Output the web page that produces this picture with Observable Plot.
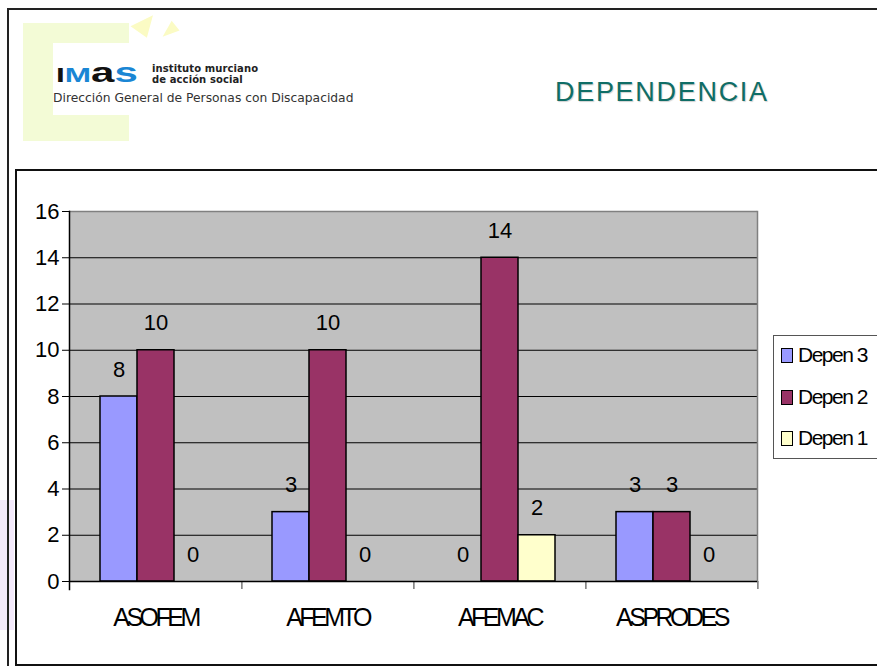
<!DOCTYPE html>
<html>
<head>
<meta charset="utf-8">
<script src="https://cdn.jsdelivr.net/npm/d3@7"></script>
<script src="https://cdn.jsdelivr.net/npm/@observablehq/plot@0.6"></script>
<style>
  html, body { margin: 0; padding: 0; background: #fff; }
  #page { position: relative; width: 877px; height: 666px; overflow: hidden; background: #fff;
          font-family: "Liberation Sans", Arial, sans-serif; }
  .deco { position: absolute; }
  #outer { position: absolute; left: 7px; top: 8px; width: 900px; height: 700px;
           border-left: 2px solid #222; border-top: 2px solid #222; }
  #inner { position: absolute; left: 15px; top: 169px; width: 900px; height: 493px;
           border-left: 2px solid #111; border-top: 2px solid #111; border-bottom: 2px solid #111; background: #fff; }
  #title { position: absolute; left: 555px; top: 77px; font-size: 27px; color: #0f6d66;
           letter-spacing: 1.7px; text-shadow: 1px 1px 1px rgba(0,0,0,0.18); }
  #logoMark { position: absolute; left: 56px; top: 58px; font-family: "Liberation Sans", Arial, sans-serif;
              white-space: nowrap; transform: scaleX(1.5); transform-origin: 0 0; line-height: 30px; font-weight: bold; }
  .logoSmall { position: absolute; left: 152px; font-size: 10px; line-height: 10px; font-family: "DejaVu Sans", sans-serif; color:#222; letter-spacing: 0.1px; white-space: nowrap; font-weight: bold; }
  #logoSub { position: absolute; left: 53px; top: 91px; font-size: 12.3px; font-family: "DejaVu Sans", sans-serif; color:#333; white-space: nowrap; letter-spacing: 0px; }
  #chart { position: absolute; left: 17px; top: 171px; }
  #legend { position: absolute; left: 773px; top: 335px; width: 120px; height: 122px;
            border: 1px solid #555; background: #fff; }
  .li { position: absolute; left: 7px; font-size: 21px; letter-spacing: -1.5px; color: #000; white-space: nowrap; }
  .sw { display: inline-block; width: 10px; height: 13px; border: 1px solid #000; margin-right: 5px; vertical-align: -1px; }
  svg g[aria-label="fx-axis tick label"] text { letter-spacing: -3.5px; }
</style>
</head>
<body>
<div id="page">
  <div class="deco" style="left:23px;top:23px;width:106px;height:118px;background:#f3fbd6;"></div>
  <div class="deco" style="left:53px;top:43px;width:76px;height:72px;background:#fff;"></div>
  <div class="deco" style="left:135px;top:12px;width:0;height:0;border-left:12px solid transparent;border-right:8px solid transparent;border-bottom:22px solid #fbfbc4;transform:rotate(35deg);"></div>
  <div class="deco" style="left:160px;top:22px;width:0;height:0;border-left:14px solid transparent;border-right:4px solid transparent;border-bottom:12px solid #fbfbc4;transform:rotate(-20deg);"></div>
  <div class="deco" style="left:0px;top:500px;width:14px;height:130px;background:#f3e9fb;"></div>
  <div id="outer"></div>
  <div id="inner"></div>
  <div id="logoMark"><span style="color:#111;font-size:21px">I</span><span style="color:#1a86d4;font-size:21px">M</span><span style="color:#111;font-size:28px">a</span><span style="color:#1a86d4;font-size:28px">s</span></div>
  <div class="logoSmall" style="top:64px">instituto murciano</div>
  <div class="logoSmall" style="top:75px">de acción social</div>
  <div id="logoSub">Dirección General de Personas con Discapacidad</div>
  <div id="title">DEPENDENCIA</div>
  <div id="chart"></div>
  <div id="legend"></div>
</div>
<script>
const categories = ["ASOFEM", "AFEMTO", "AFEMAC", "ASPRODES"];
const seriesNames = ["Depen 3", "Depen 2", "Depen 1"];
const depen3 = [8, 3, 0, 3];
const depen2 = [10, 10, 14, 3];
const depen1 = [0, 0, 2, 0];
const seriesColors = ["#9999ff", "#993366", "#ffffcc"];
const yTicks = [0, 2, 4, 6, 8, 10, 12, 14, 16];

const seriesValues = [depen3, depen2, depen1];
const rows = [];
categories.forEach((c, i) => {
  seriesNames.forEach((s, j) => {
    rows.push({category: c, series: s, value: seriesValues[j][i]});
  });
});

const W = 754, ML = 50, MR = 13;
const facetStep = (W - ML - MR) / categories.length;
const chart = Plot.plot({
  width: W,
  height: 491,
  marginLeft: ML,
  marginRight: MR,
  marginTop: 40,
  marginBottom: 81,
  style: {fontFamily: "'Liberation Sans', Arial, sans-serif", fontSize: "22px", background: "transparent", color: "#000", overflow: "visible"},
  fx: {domain: categories, padding: 0, label: null, axis: null},
  x: {domain: seriesNames, paddingInner: 0, paddingOuter: 0.78, axis: null},
  y: {domain: [0, 16], label: null},
  color: {domain: seriesNames, range: seriesColors},
  marks: [
    Plot.frame({facet: "super", fill: "#c0c0c0"}),
    Plot.ruleY(yTicks.filter(t => t > 0 && t < 16), {stroke: "#000", strokeWidth: 1}),
    Plot.ruleY([16], {stroke: "#808080", strokeWidth: 1.5}),
    Plot.frame({facet: "super", anchor: "right", stroke: "#808080", strokeWidth: 1.5}),
    Plot.frame({facet: "super", anchor: "left", stroke: "#000", strokeWidth: 1.5, insetBottom: -8}),
    Plot.axisFx({anchor: "bottom", tickSize: 8, stroke: "#777", strokeWidth: 1.5, tickFormat: () => "", dx: facetStep / 2, label: null}),
    Plot.barY(rows, {fx: "category", x: "series", y: "value", fill: "series", stroke: "#000", strokeWidth: 1.5}),
    Plot.ruleY([0], {stroke: "#000", strokeWidth: 1.5}),
    Plot.axisY({ticks: yTicks, tickSize: 7, tickPadding: 3, fontSize: 22, label: null, tickFormat: d => String(d)}),
    Plot.axisFx({anchor: "bottom", tickSize: 0, tickPadding: 27, fontSize: 25, label: null}),
    Plot.text(rows, {fx: "category", x: "series", y: "value", text: d => String(d.value), dy: -27, fontSize: 22})
  ]
});
document.getElementById("chart").appendChild(chart);

const legend = document.getElementById("legend");
seriesNames.forEach((s, j) => {
  const item = document.createElement("div");
  item.className = "li";
  item.style.top = (7 + j * 41.5) + "px";
  const sw = document.createElement("span");
  sw.className = "sw";
  sw.style.background = seriesColors[j];
  item.appendChild(sw);
  item.appendChild(document.createTextNode(s));
  legend.appendChild(item);
});
</script>
</body>
</html>
